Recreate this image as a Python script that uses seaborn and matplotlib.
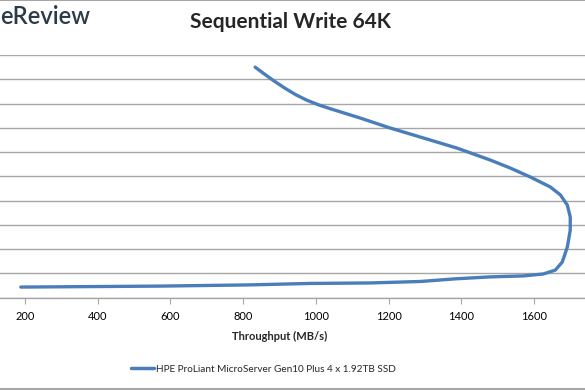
import pandas as pd
import numpy as np
import matplotlib.pyplot as plt
import seaborn as sns
from matplotlib.lines import Line2D

# values (x: MB/s, y: grid units of the hidden latency axis)
throughput = [189, 379, 571, 819, 984, 1149, 1287, 1383, 1479, 1570, 1625, 1658,
              1677, 1691, 1699, 1699, 1691, 1672, 1644, 1589, 1534, 1479, 1388,
              1295, 1204, 1122, 1047, 1010, 976, 945, 915, 885, 858, 833]
latency = [0.43, 0.45, 0.47, 0.52, 0.58, 0.60, 0.66, 0.77, 0.85, 0.89, 0.97, 1.13,
           1.46, 2.08, 2.78, 3.32, 3.81, 4.23, 4.56, 4.97, 5.34, 5.67, 6.16,
           6.58, 6.99, 7.40, 7.75, 7.93, 8.13, 8.36, 8.63, 8.93, 9.22, 9.50]
series_name = "HPE ProLiant MicroServer Gen10 Plus 4 x 1.92TB SSD"
x_ticks = [0, 200, 400, 600, 800, 1000, 1200, 1400, 1600, 1800]
x_labels = ["", "200", "400", "600", "800", "1000", "1200", "1400", "1600", ""]
y_ticks = list(range(0, 11))

df = pd.DataFrame({"Throughput": throughput, "Latency": latency, "Drive": series_name})

sns.set_style("white")
plt.rcParams['font.family'] = ['Lato', 'DejaVu Sans']

fig = plt.figure(figsize=(5.85, 3.9), dpi=100)
# plot area runs past the left and right edges, as in the reference
ax = fig.add_axes([-48 / 585, 92.5 / 390, 655 / 585, 242.5 / 390])

sns.lineplot(data=df, x="Throughput", y="Latency", hue="Drive", sort=False,
             estimator=None, errorbar=None,
             palette=["#4a7ebb"], linewidth=2.4, ax=ax, legend=False)
ax.lines[0].set_solid_joinstyle("round")
ax.lines[0].set_solid_capstyle("round")

ax.set_xlim(0, 1800)
ax.set_ylim(0, 10)
ax.set_xticks(x_ticks)
ax.set_xticklabels(x_labels)
ax.set_yticks(y_ticks)
ax.set_yticklabels([])
ax.grid(axis="y", color="#a6a6a6", linewidth=1.0)
ax.set_axisbelow(True)
for s in ["top", "right", "left"]:
    ax.spines[s].set_visible(False)
ax.spines["bottom"].set_color("#a6a6a6")
ax.spines["bottom"].set_linewidth(1.0)
ax.tick_params(axis="x", direction="out", length=4, color="#a6a6a6", labelsize=8,
               labelcolor="#000000", pad=6, bottom=True)
ax.tick_params(axis="y", length=0)
ax.set_xlabel("Throughput (MB/s)", fontsize=8, fontweight="bold", labelpad=6)
ax.set_ylabel("")

fig.text(291 / 585, 1 - 22 / 390, "Sequential Write 64K", ha="center", va="center",
         fontsize=15, fontweight="bold")
fig.text(0, 1 - 17 / 390, "eReview", ha="left", va="center",
         fontsize=17, fontweight="semibold", color="#2b3b4a")

handle = Line2D([], [], color="#4a7ebb", linewidth=2.5)
fig.legend([handle], [series_name], loc="center", bbox_to_anchor=(263 / 585, 1 - 369 / 390),
           frameon=False, fontsize=7.2, handlelength=2.3, handletextpad=0.2)

# outer chart border (top and bottom visible)
fig.add_artist(Line2D([0, 1], [0.999, 0.999], color="#a6a6a6", linewidth=1.5, transform=fig.transFigure))
fig.add_artist(Line2D([0, 1], [0.002, 0.002], color="#a6a6a6", linewidth=1.5, transform=fig.transFigure))

fig.savefig("out.png", dpi=100)
